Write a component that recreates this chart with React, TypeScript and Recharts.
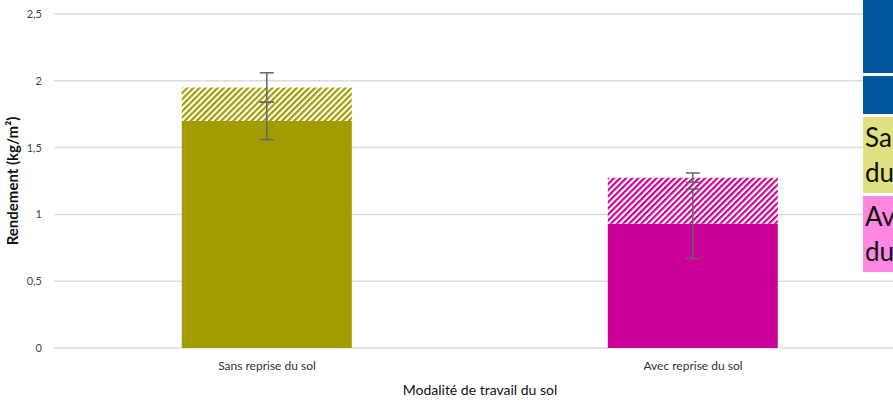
import React from 'react'
import {
  BarChart,
  Bar,
  Cell,
  CartesianGrid,
  XAxis,
  YAxis,
  ErrorBar
} from 'recharts'

const categories = ['Sans reprise du sol', 'Avec reprise du sol']
const baseYield = [1.7, 0.93]
const extraYield = [0.25, 0.345]
const baseError = [0.14, 0.26]
const totalError = [0.11, 0.035]
const yTicks = [0, 0.5, 1, 1.5, 2, 2.5]

const solidColors = ['#a39c00', '#cc0099']
const hatchIds = ['hatchOlive', 'hatchPink']

const data = categories.map((name, i) => ({
  name,
  base: baseYield[i],
  extra: extraYield[i],
  baseErr: baseError[i],
  totalErr: totalError[i]
}))

const font = 'Lato, "Noto Sans", sans-serif'

const legendBox = (top: number, height: number, bg: string, text?: string) => (
  <div
    style={{
      position: 'absolute',
      left: 863,
      top,
      width: 160,
      height,
      background: bg,
      fontFamily: font,
      fontSize: 26,
      lineHeight: '35px',
      color: '#111',
      paddingLeft: 2,
      paddingTop: 3,
      boxSizing: 'border-box',
      overflow: 'hidden'
    }}
  >
    {text}
  </div>
)

const App = () => {
  return (
    <div
      style={{
        position: 'fixed',
        left: 0,
        top: 0,
        width: 893,
        height: 403,
        overflow: 'hidden',
        background: '#fff'
      }}
    >
      <BarChart
        width={906}
        height={403}
        data={data}
        margin={{ top: 14, right: 0, bottom: 0, left: 0 }}
        barCategoryGap="30%"
      >
        <defs>
          {hatchIds.map((id, i) => (
            <pattern
              key={id}
              id={id}
              width={4.3}
              height={4.3}
              patternUnits="userSpaceOnUse"
              patternTransform="rotate(45)"
            >
              <rect width={4.3} height={4.3} fill="#fff" />
              <line x1={1.1} y1={0} x2={1.1} y2={4.3} stroke={solidColors[i]} strokeWidth={2.2} />
            </pattern>
          ))}
        </defs>
        <CartesianGrid vertical={false} stroke="#dcdcdc" strokeWidth={1.5} />
        <XAxis
          dataKey="name"
          axisLine={false}
          tickLine={false}
          tickMargin={7}
          height={55}
          tick={{ fontFamily: font, fontSize: 12, fill: '#333' }}
          label={{
            value: 'Modalité de travail du sol',
            position: 'insideBottom',
            offset: 8,
            style: { fontFamily: font, fontSize: 14, fill: '#111' }
          }}
        />
        <YAxis
          width={54}
          domain={[0, 2.5]}
          ticks={yTicks}
          axisLine={false}
          tickLine={false}
          tickMargin={6}
          tickFormatter={(v: number) => String(v).replace('.', ',')}
          tick={{ fontFamily: font, fontSize: 11, fill: '#444' }}
          label={{
            value: 'Rendement (kg/m²)',
            angle: -90,
            position: 'insideLeft',
            offset: 13,
            style: { fontFamily: font, fontSize: 15, fontWeight: 700, fill: '#111', textAnchor: 'middle' }
          }}
        />
        <Bar dataKey="base" stackId="a" isAnimationActive={false}>
          {data.map((d, i) => (
            <Cell key={d.name} fill={solidColors[i]} />
          ))}
          <ErrorBar dataKey="baseErr" width={7} stroke="#666" strokeWidth={1.5} />
        </Bar>
        <Bar dataKey="extra" stackId="a" isAnimationActive={false}>
          {data.map((d, i) => (
            <Cell key={d.name} fill={`url(#${hatchIds[i]})`} />
          ))}
          <ErrorBar dataKey="totalErr" width={7} stroke="#666" strokeWidth={1.5} />
        </Bar>
      </BarChart>
      {legendBox(-2, 75, '#00579e')}
      {legendBox(76, 38, '#00579e')}
      {legendBox(117, 76, '#dfe07f', 'Sans reprise du sol')}
      {legendBox(196, 76, '#ff88e0', 'Avec reprise du sol')}
    </div>
  )
}

export default App
